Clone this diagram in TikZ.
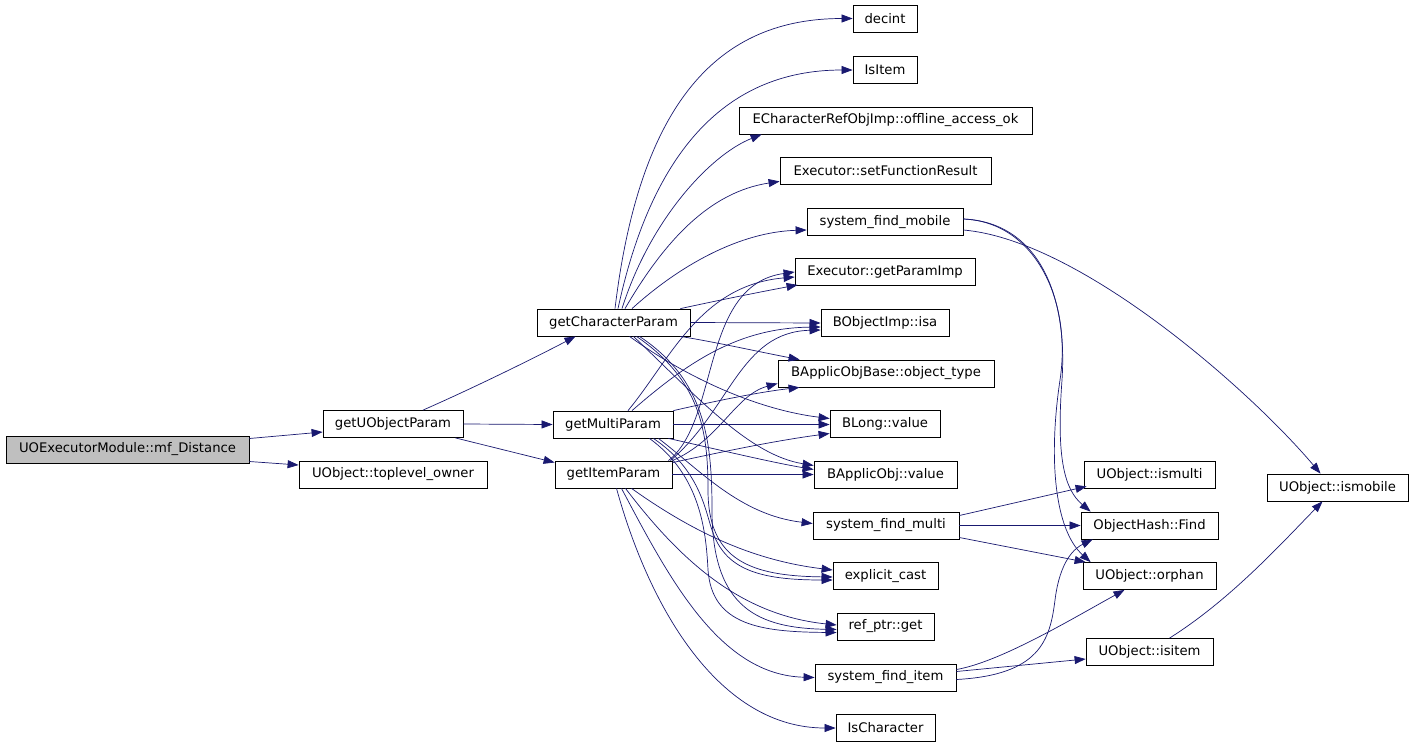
\documentclass[tikz,border=0pt]{standalone}
\usepackage{fontspec}
\setmainfont{DejaVu Sans}
\usetikzlibrary{arrows.meta}
\definecolor{edgeblue}{HTML}{191970}
\definecolor{startgray}{HTML}{BFBFBF}
\begin{document}
\begin{tikzpicture}[x=1pt,y=-1pt,
  box/.style={draw=black, line width=0.8pt, fill=white, minimum height=27pt, inner sep=0pt, font=\fontsize{13.2}{15}\selectfont, text=black},
  startbox/.style={box, fill=startgray},
  edge/.style={draw=edgeblue, line width=0.7pt, -{Triangle[length=11pt,width=8pt]}}]
\useasboundingbox (0,0) rectangle (1413,747);
\fill[white] (0,0) rectangle (1413,747);
% nodes
\node[startbox, minimum width=243pt] (mf) at (127.5,449.5) {UOExecutorModule::mf\_Distance};
\node[box, minimum width=140pt] (gUOP) at (393,424) {getUObjectParam};
\node[box, minimum width=188pt] (tlo) at (393,474.5) {UObject::toplevel\_owner};
\node[box, minimum width=153pt] (gCP) at (613.5,322.5) {getCharacterParam};
\node[box, minimum width=120pt] (gMP) at (613,424.5) {getMultiParam};
\node[box, minimum width=117pt] (gIP) at (613.5,474.5) {getItemParam};
\node[box, minimum width=64pt] (decint) at (885,18.5) {decint};
\node[box, minimum width=64pt] (IsItem) at (885,70) {IsItem};
\node[box, minimum width=293pt] (offline) at (885.5,120.5) {ECharacterRefObjImp::offline\_access\_ok};
\node[box, minimum width=211pt] (setFR) at (885.5,170.5) {Executor::setFunctionResult};
\node[box, minimum width=156pt] (sfmobile) at (885,222) {system\_find\_mobile};
\node[box, minimum width=180pt] (gPI) at (885,272) {Executor::getParamImp};
\node[box, minimum width=128pt] (isa) at (885,323) {BObjectImp::isa};
\node[box, minimum width=216pt] (objtype) at (886,373.5) {BApplicObjBase::object\_type};
\node[box, minimum width=110pt] (BLong) at (885,423.5) {BLong::value};
\node[box, minimum width=143pt] (BAO) at (885.5,474.5) {BApplicObj::value};
\node[box, minimum width=146pt] (sfmulti) at (886,525.5) {system\_find\_multi};
\node[box, minimum width=105pt] (ecast) at (885.5,576) {explicit\_cast};
\node[box, minimum width=97pt] (refptr) at (885.5,626.5) {ref\_ptr::get};
\node[box, minimum width=141pt] (sfitem) at (885.5,677.5) {system\_find\_item};
\node[box, minimum width=99pt] (IsChar) at (885.5,728) {IsCharacter};
\node[box, minimum width=131pt] (ismulti) at (1149.5,474.5) {UObject::ismulti};
\node[box, minimum width=137pt] (Find) at (1149.5,525.5) {ObjectHash::Find};
\node[box, minimum width=133pt] (orphan) at (1149.5,576) {UObject::orphan};
\node[box, minimum width=127pt] (isitem) at (1149.5,652) {UObject::isitem};
\node[box, minimum width=141pt] (ismobile) at (1337.5,487.5) {UObject::ismobile};
% level 0/1
\draw[edge] ([yshift=11pt]mf.east) -- ([yshift=-8pt]gUOP.west);
\draw[edge] ([yshift=-12pt]mf.east) -- ([yshift=9.5pt]tlo.west);
\draw[edge] ([xshift=30pt]gUOP.north) .. controls (480,385) and (540,355) .. ([xshift=-38pt]gCP.south);
\draw[edge] (gUOP.east) -- (gMP.west);
\draw[edge] ([xshift=-8pt]gUOP.south east) -- ([yshift=12pt]gIP.west);
% getCharacterParam
\draw[edge] ([xshift=1.5pt]gCP.north) .. controls (640,100) and (720,18.5) .. (decint.west);
\draw[edge] ([xshift=4.5pt]gCP.north) .. controls (650,160) and (720,70) .. (IsItem.west);
\draw[edge] ([xshift=8.5pt]gCP.north) .. controls (650,220) and (710,155) .. ([xshift=23pt]offline.south west);
\draw[edge] ([xshift=11.5pt]gCP.north) .. controls (665,240) and (710,192) .. ([yshift=3pt]setFR.south west);
\draw[edge] ([xshift=18.5pt]gCP.north) .. controls (680,265) and (740,232) .. ([yshift=-8pt]sfmobile.west);
\draw[edge] ([xshift=-10pt]gCP.north east) .. controls (720,300) and (760,292) .. ([xshift=3pt,yshift=1pt]gPI.south west);
\draw[edge] (gCP.east) -- (isa.west);
\draw[edge] ([xshift=-10pt]gCP.south east) .. controls (720,343) and (760,352) .. ([xshift=22pt]objtype.north west);
\draw[edge] ([xshift=16pt]gCP.south) .. controls (690,380) and (760,410) .. ([yshift=5pt]BLong.west);
\draw[edge] ([xshift=20pt]gCP.south) .. controls (700,400) and (750,455) .. ([yshift=9pt]BAO.west);
\draw[edge] ([xshift=23pt]gCP.south) .. controls (700,380) and (708,430) .. (708,490) .. controls (708,560) and (750,576) .. ([yshift=-1pt]ecast.west);
\draw[edge] ([xshift=26pt]gCP.south) .. controls (705,380) and (712,440) .. (712,510) .. controls (712,610) and (760,628) .. ([yshift=-3pt]refptr.west);
% getMultiParam
\draw[edge] ([xshift=15pt]gMP.north) .. controls (670,360) and (700,285) .. ([yshift=-5pt]gPI.west);
\draw[edge] ([xshift=19pt]gMP.north) .. controls (690,360) and (740,328) .. ([yshift=-4pt]isa.west);
\draw[edge] (gMP.north east) .. controls (720,400) and (760,392) .. ([xshift=22pt]objtype.south west);
\draw[edge] (gMP.east) -- ([yshift=-1pt]BLong.west);
\draw[edge] ([xshift=-5pt]gMP.south east) .. controls (720,450) and (770,462) .. ([yshift=5pt]BAO.west);
\draw[edge] ([xshift=-15pt]gMP.south east) .. controls (700,470) and (740,515) .. ([yshift=2pt]sfmulti.west);
\draw[edge] ([xshift=-20pt]gMP.south east) .. controls (700,470) and (705,510) .. (712,530) .. controls (725,570) and (760,580) .. ([yshift=-4pt]ecast.west);
\draw[edge] ([xshift=-24pt]gMP.south east) .. controls (700,475) and (706,530) .. (708,570) .. controls (712,625) and (760,632) .. ([yshift=-6pt]refptr.west);
% getItemParam
\draw[edge] ([xshift=-4pt]gIP.north east) .. controls (720,420) and (700,285) .. (gPI.west);
\draw[edge] ([xshift=-2pt]gIP.north east) .. controls (730,410) and (740,332) .. ([yshift=-7pt]isa.west);
\draw[edge] (gIP.north east) .. controls (720,440) and (735,395) .. ([yshift=-10pt]objtype.west);
\draw[edge] ([yshift=-2pt]gIP.north east) .. controls (730,450) and (780,440) .. ([yshift=-10pt]BLong.west);
\draw[edge] (gIP.east) -- (BAO.west);
\draw[edge] ([xshift=18pt]gIP.south) .. controls (690,530) and (750,560) .. ([yshift=6pt]ecast.west);
\draw[edge] ([xshift=12pt]gIP.south) .. controls (680,560) and (740,615) .. ([yshift=1.5pt]refptr.west);
\draw[edge] ([xshift=8pt]gIP.south) .. controls (670,580) and (720,675) .. (sfitem.west);
\draw[edge] ([xshift=3pt]gIP.south) .. controls (650,610) and (720,728) .. (IsChar.west);
% system_find_mobile
\draw[edge] ([yshift=3pt]sfmobile.east) .. controls (1035,222) and (1068,290) .. (1062,380) .. controls (1056,460) and (1065,490) .. ([xshift=10pt]Find.north west);
\draw[edge] ([yshift=3pt]sfmobile.east) .. controls (1035,222) and (1072,300) .. (1060,380) .. controls (1048,460) and (1055,530) .. ([xshift=8pt]orphan.north west);
\draw[edge] ([yshift=-8pt]sfmobile.east) .. controls (1080,240) and (1250,390) .. ([xshift=-17pt]ismobile.north);
% system_find_multi
\draw[edge] ([yshift=10pt]sfmulti.east) -- ([xshift=3pt,yshift=2pt]ismulti.south west);
\draw[edge] (sfmulti.east) -- (Find.west);
\draw[edge] ([yshift=-12pt]sfmulti.east) -- ([xshift=3pt]orphan.north west);
% system_find_item
\draw[edge] ([yshift=6pt]sfitem.east) -- ([yshift=-7pt]isitem.west);
\draw[edge] ([yshift=8pt]sfitem.east) .. controls (1000,662) and (1070,620) .. ([xshift=-25pt]orphan.south);
\draw[edge] ([yshift=-2pt]sfitem.east) .. controls (1040,675) and (1050,640) .. (1055,600) .. controls (1060,560) and (1075,548) .. ([xshift=12pt]Find.south west);
% isitem
\draw[edge] ([xshift=20pt]isitem.north) .. controls (1230,600) and (1280,545) .. ([xshift=-15pt]ismobile.south);
\end{tikzpicture}
\end{document}
